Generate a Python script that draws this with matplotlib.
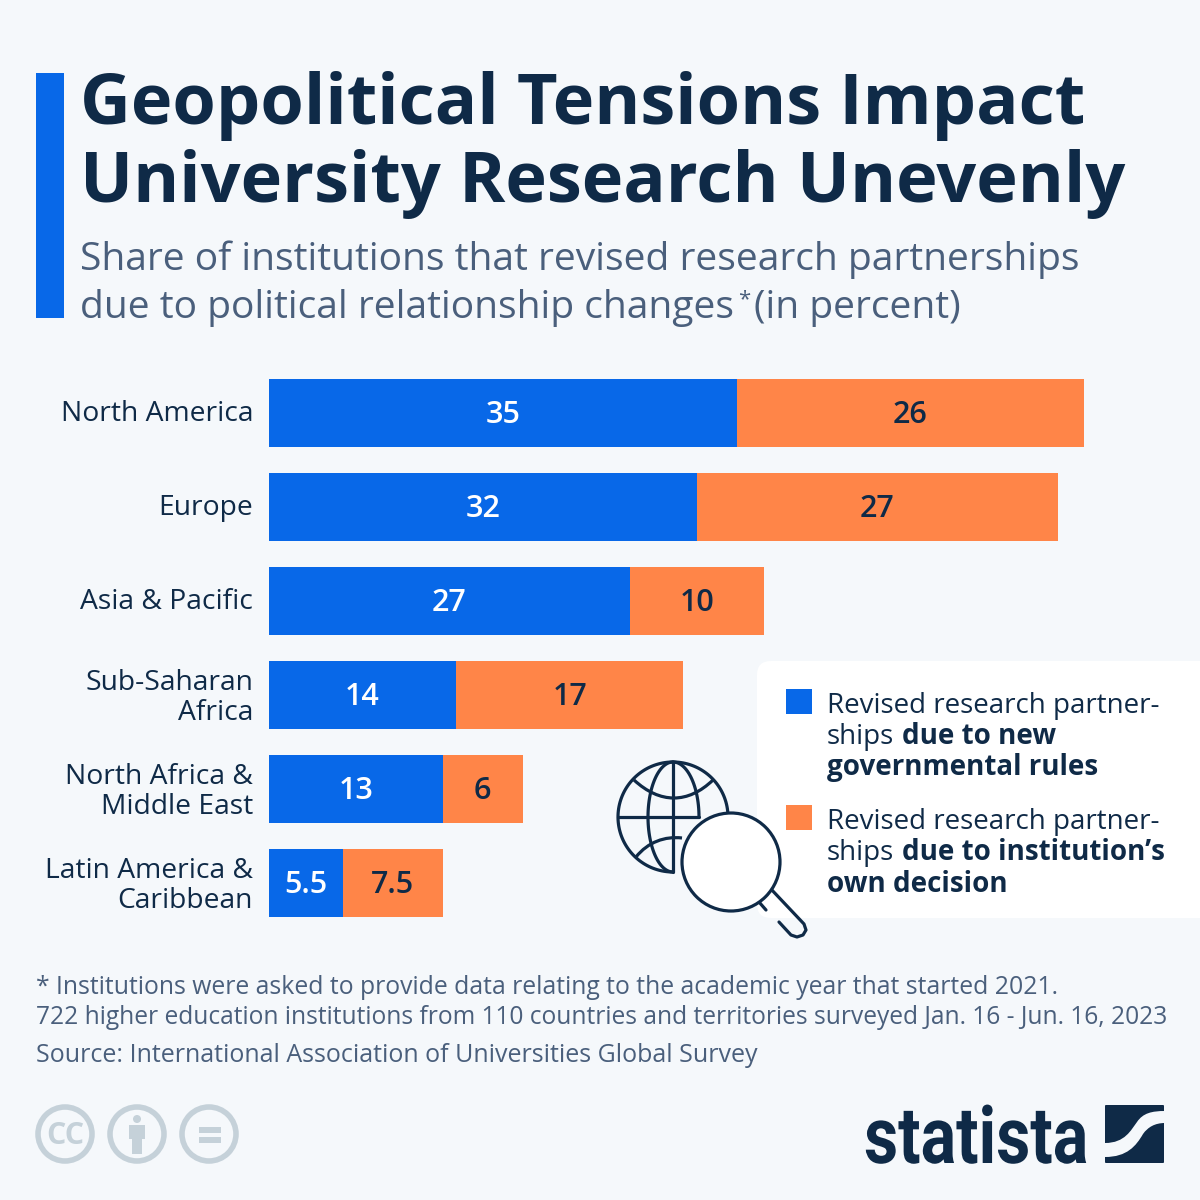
#!/usr/bin/env python

import numpy as np
import matplotlib
matplotlib.use('Agg')
import matplotlib.pyplot as plt
from matplotlib.patches import Rectangle, Circle, FancyBboxPatch, PathPatch
from matplotlib.path import Path
from matplotlib.patheffects import AbstractPathEffect
from matplotlib.transforms import Affine2D, ScaledTranslation

plt.rcParams['font.family'] = ['Open Sans', 'Noto Sans', 'DejaVu Sans']

regions = ['North America', 'Europe', 'Asia & Pacific', 'Sub-Saharan\nAfrica',
           'North Africa &\nMiddle East', 'Latin America &\nCaribbean']
new_rules = [35, 32, 27, 14, 13, 5.5]
own_decision = [26, 27, 10, 17, 6, 7.5]

BG = '#F5F8FB'
BLUE = '#0868E8'
ORANGE = '#FF8548'
DARK = '#0F2A47'
GREY = '#4A5F7C'
LIGHT = '#C5D1D9'


class Squeeze(AbstractPathEffect):
    # narrows a text sideways, there is no condensed face for the logo
    def __init__(self, x0, sx):
        super().__init__()
        self.x0 = x0
        self.sx = sx

    def draw_path(self, renderer, gc, tpath, affine, rgbFace=None):
        squeeze = Affine2D().translate(-self.x0, 0).scale(self.sx, 1).translate(self.x0, 0)
        renderer.draw_path(gc, tpath, affine + squeeze, rgbFace)


fig = plt.figure(figsize=(12, 12), dpi=100, facecolor=BG)

# overlay in pixel coordinates of the picture, for everything around the chart
px = fig.add_axes([0, 0, 1, 1])
px.set_xlim(0, 1200)
px.set_ylim(1200, 0)
px.axis('off')

px.add_patch(Rectangle((36, 73), 28, 245, fc=BLUE, lw=0))
px.text(80, 106, 'Geopolitical Tensions Impact', fontsize=50.6, weight='bold', color=DARK, va='center')
px.text(80, 184, 'University Research Unevenly', fontsize=50.6, weight='bold', color=DARK, va='center')
px.text(80, 260, 'Share of institutions that revised research partnerships', fontsize=28.1, color=GREY, va='center')
px.text(80, 308, 'due to political relationship changes', fontsize=28.1, color=GREY, va='center')
px.text(738, 300, '*', fontsize=16, color=GREY, va='center')
px.text(754, 308, '(in percent)', fontsize=28.1, color=GREY, va='center')

# legend box runs off the right edge
px.add_patch(FancyBboxPatch((757, 661), 500, 257, boxstyle='round,pad=0,rounding_size=14',
                            fc='white', lw=0, zorder=1))
px.add_patch(Rectangle((786, 689), 26, 25, fc=BLUE, lw=0, zorder=2))
px.add_patch(Rectangle((786, 805), 26, 25, fc=ORANGE, lw=0, zorder=2))
leg = dict(fontsize=20, color=DARK, va='center', zorder=2)
px.text(827, 706, 'Revised research partner-', **leg)
px.text(827, 737, 'ships', **leg)
px.text(902, 737, 'due to new', weight='bold', **leg)
px.text(827, 768, 'governmental rules', weight='bold', **leg)
px.text(827, 822, 'Revised research partner-', **leg)
px.text(827, 853, 'ships', **leg)
px.text(902, 853, 'due to institution’s', weight='bold', **leg)
px.text(827, 884, 'own decision', weight='bold', **leg)

# globe and magnifier icon
ic = dict(color=DARK, lw=2.3, solid_capstyle='round', zorder=3)
t = np.radians(np.linspace(-10, 270, 120))
px.plot(673 + 55 * np.cos(t), 817 - 55 * np.sin(t), **ic)
px.plot([673, 673], [762, 872], **ic)
px.plot([618, 699], [817, 817], **ic)
t = np.radians(np.linspace(90, 270, 60))
px.plot(673 + 25 * np.cos(t), 817 - 55 * np.sin(t), **ic)
t = np.radians(np.linspace(0, 90, 30))
px.plot(673 + 26 * np.cos(t), 817 - 55 * np.sin(t), **ic)
px.add_patch(PathPatch(Path([(634, 780), (660, 804), (688, 804), (713, 780)],
                            [Path.MOVETO, Path.CURVE4, Path.CURVE4, Path.CURVE4]),
                       fc='none', ec=DARK, lw=2.3, zorder=3))
px.add_patch(PathPatch(Path([(636, 857), (648, 842), (665, 836), (682, 838)],
                            [Path.MOVETO, Path.CURVE4, Path.CURVE4, Path.CURVE4]),
                       fc='none', ec=DARK, lw=2.3, zorder=3))
px.add_patch(Circle((731, 862), 49, fc='white', ec=DARK, lw=2.3, zorder=4))
px.plot([770, 804, 806, 803, 797, 791, 779], [888, 924, 930, 935, 937, 935, 922], **ic)
px.plot([759, 766], [902, 910], **ic)

px.text(36, 988, '* Institutions were asked to provide data relating to the academic year that started 2021.',
        fontsize=17.85, color=GREY, va='center')
px.text(36, 1018, '722 higher education institutions from 110 countries and territories surveyed Jan. 16 - Jun. 16, 2023',
        fontsize=17.65, color=GREY, va='center')
px.text(36, 1056, 'Source: International Association of Universities Global Survey',
        fontsize=18, color=GREY, va='center')

# licence icons
for cx in (65, 137, 209):
    px.add_patch(Circle((cx, 1134), 27, fc='none', ec=LIGHT, lw=4))
px.text(65, 1136, 'CC', fontsize=22, weight='bold', color=LIGHT, ha='center', va='center')
px.add_patch(Circle((137, 1119), 4, fc=LIGHT, lw=0))
px.add_patch(Rectangle((129, 1125), 16, 14, fc=LIGHT, lw=0))
px.add_patch(Rectangle((132, 1135), 10, 19, fc=LIGHT, lw=0))
px.add_patch(Rectangle((199, 1127), 22, 6, fc=LIGHT, lw=0))
px.add_patch(Rectangle((199, 1137), 22, 6, fc=LIGHT, lw=0))

# statista logo
logo = px.text(864, 1163, 'statista', fontsize=57, weight='bold', family='Roboto', color=DARK, va='baseline')
logo_w = logo.get_window_extent(fig.canvas.get_renderer()).width
logo.set_path_effects([Squeeze(864, 224 / logo_w)])
px.add_patch(FancyBboxPatch((1105, 1105), 59, 58, boxstyle='round,pad=0,rounding_size=1', fc=DARK, lw=0))
band = Path([(1105, 1143), (1125, 1143), (1131, 1130), (1137, 1122), (1143, 1113), (1152, 1111), (1165, 1111),
             (1165, 1123), (1155, 1123), (1148, 1127), (1143, 1134), (1136, 1146), (1127, 1157), (1105, 1157),
             (1105, 1143)],
            [Path.MOVETO, Path.CURVE4, Path.CURVE4, Path.CURVE4, Path.CURVE4, Path.CURVE4, Path.CURVE4,
             Path.LINETO, Path.CURVE4, Path.CURVE4, Path.CURVE4, Path.CURVE4, Path.CURVE4, Path.CURVE4,
             Path.CLOSEPOLY])
px.add_patch(PathPatch(band, fc=BG, lw=0))

# the bars: 13.365 px per percent, rows 94 px apart
ax = fig.add_axes([269 / 1200, 1 - 930 / 1200, 931 / 1200, 564 / 1200])
ax.patch.set_alpha(0)
ax.set_xlim(0, 931 / 13.365)
ax.set_ylim(5.5, -0.5)
y = np.arange(len(regions))
ax.barh(y, new_rules, height=0.723, color=BLUE)
ax.barh(y, own_decision, left=new_rules, height=0.723, color=ORANGE)
for i, (a, b) in enumerate(zip(new_rules, own_decision)):
    ax.text(a / 2, i + 0.025, f'{a:g}', ha='center', va='center', fontsize=22, weight=600, color='white')
    ax.text(a + b / 2, i + 0.025, f'{b:g}', ha='center', va='center', fontsize=22, weight=600, color=DARK)
ax.set_yticks(y)
ax.set_yticklabels(regions, fontsize=20.3, color=DARK, linespacing=1.08)
ax.tick_params(axis='y', length=0, pad=11.5)
ax.set_xticks([])
for lab in ax.get_yticklabels():
    dy = 1 if '\n' in lab.get_text() else 2
    lab.set_transform(lab.get_transform() + ScaledTranslation(0, dy / 72, fig.dpi_scale_trans))
for s in ax.spines.values():
    s.set_visible(False)

fig.savefig('out.png', dpi=100, facecolor=BG)
